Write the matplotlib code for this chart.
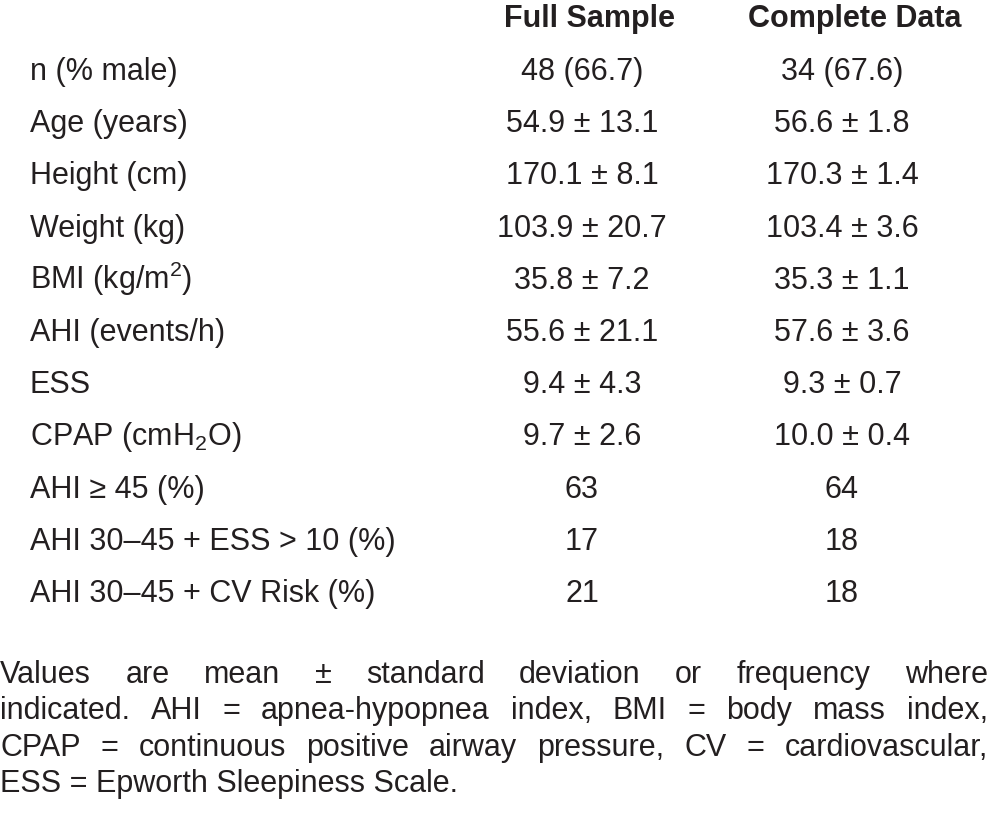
import matplotlib
matplotlib.use('Agg')
import matplotlib.pyplot as plt

# Данные таблицы
row_labels = ['n (% male)', 'Age (years)', 'Height (cm)', 'Weight (kg)',
              'BMI (kg/m$^2$)', 'AHI (events/h)', 'ESS', 'CPAP (cmH$_2$O)',
              'AHI ≥ 45 (%)', 'AHI 30–45 + ESS > 10 (%)', 'AHI 30–45 + CV Risk (%)']
full_sample = ['48 (66.7)', '54.9 ± 13.1', '170.1 ± 8.1', '103.9 ± 20.7',
               '35.8 ± 7.2', '55.6 ± 21.1', '9.4 ± 4.3', '9.7 ± 2.6',
               '63', '17', '21']
complete_data = ['34 (67.6)', '56.6 ± 1.8', '170.3 ± 1.4', '103.4 ± 3.6',
                 '35.3 ± 1.1', '57.6 ± 3.6', '9.3 ± 0.7', '10.0 ± 0.4',
                 '64', '18', '18']
headers = ['Full Sample', 'Complete Data']
footnote = ['Values are mean ± standard deviation or frequency where',
            'indicated. AHI = apnea-hypopnea index, BMI = body mass index,',
            'CPAP = continuous positive airway pressure, CV = cardiovascular,',
            'ESS = Epworth Sleepiness Scale.']

plt.rcParams['font.family'] = ['Liberation Sans', 'DejaVu Sans']
plt.rcParams['mathtext.fontset'] = 'custom'
plt.rcParams['mathtext.rm'] = 'Liberation Sans'
plt.rcParams['mathtext.default'] = 'regular'

W, H = 989, 820
fig = plt.figure(figsize=(W / 100, H / 100), dpi=100)
fs = 22
ink = '#231f20'

def px(x, y):
    # пиксели сверху-слева -> доли фигуры
    return x / W, 1 - y / H

# Заголовки
for cx, h in zip([590, 855], headers):
    fig.text(*px(cx, 27), h, ha='center', va='baseline', fontsize=fs,
             fontweight='bold', color=ink)

# Строки таблицы
for i, (lab, a, b) in enumerate(zip(row_labels, full_sample, complete_data)):
    y = 80 + 52.2 * i
    fig.text(*px(30, y), lab, ha='left', va='baseline', fontsize=fs, color=ink)
    fig.text(*px(582, y), a, ha='center', va='baseline', fontsize=fs, color=ink)
    fig.text(*px(842, y), b, ha='center', va='baseline', fontsize=fs, color=ink)

# Примечание, выровненное по ширине
renderer = fig.canvas.get_renderer()
for j, line in enumerate(footnote):
    y = 683 + 36.3 * j
    if j == len(footnote) - 1:
        fig.text(*px(0, y), line, ha='left', va='baseline', fontsize=fs, color=ink)
        continue
    words = line.split(' ')
    arts = [fig.text(0, 0, w, ha='left', va='baseline', fontsize=fs, color=ink)
            for w in words]
    widths = [a.get_window_extent(renderer).width for a in arts]
    gap = (W - 1 - sum(widths)) / (len(words) - 1)
    x = 0
    for a, w in zip(arts, widths):
        a.set_position(px(x, y))
        x += w + gap

fig.savefig('out.png', dpi=100)
